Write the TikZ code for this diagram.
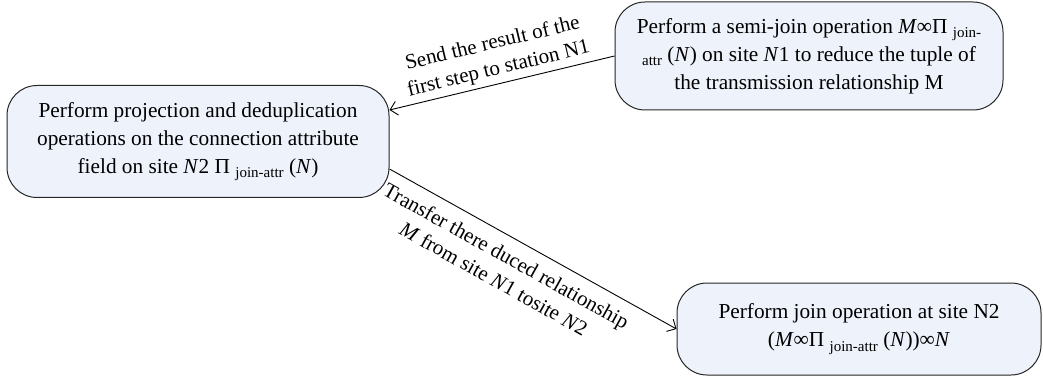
\documentclass[tikz,border=0pt]{standalone}
\usepackage{fontspec}
\setmainfont{Liberation Serif}
\usetikzlibrary{arrows.meta}
\definecolor{boxfill}{RGB}{238,242,251}
\newcommand{\jsub}[1]{\raisebox{-0.45ex}{\fontsize{15}{15}\selectfont #1}}
\begin{document}
\begin{tikzpicture}[x=1pt,y=-1pt,
  stepbox/.style={draw=black!85,line width=1pt,fill=boxfill,rounded corners=30pt,
    align=center,inner sep=0pt,font=\fontsize{21.3}{28}\selectfont},
  conn/.style={line width=0.9pt,-{Straight Barb[length=7pt,width=14pt,line width=0.9pt]}},
  lbl/.style={align=center,font=\fontsize{21}{26}\selectfont,sloped,inner sep=4pt}]
\useasboundingbox (0,0) rectangle (1043,379);
\node[stepbox,minimum width=382pt,minimum height=112pt] (A) at (198,141.5)
  {Perform projection and deduplication\\operations on the connection attribute\\field on site \textit{N}2 Π \jsub{join-attr} (\textit{N})};
\node[stepbox,minimum width=388pt,minimum height=108pt] (B) at (809,56)
  {Perform a semi-join operation \textit{M}∞Π \jsub{join-}\\\jsub{attr} (\textit{N}) on site \textit{N}1 to reduce the tuple of\\the transmission relationship M};
\node[stepbox,minimum width=364pt,minimum height=92pt] (C) at (859,329)
  {Perform join operation at site N2\\(\textit{M}∞Π \jsub{join-attr} (\textit{N}))∞\textit{N}};
\draw[conn] (B.west) -- node[lbl,above,pos=0.5] {Send the result of the\\first step to station N1} ([yshift=31.5pt]A.east);
\draw[conn] ([yshift=-27.5pt]A.east) -- node[lbl,below,pos=0.44,inner sep=11pt] {Transfer there duced relationship\\\textit{M} from site \textit{N}1 tosite \textit{N}2} (C.west);
\end{tikzpicture}
\end{document}
